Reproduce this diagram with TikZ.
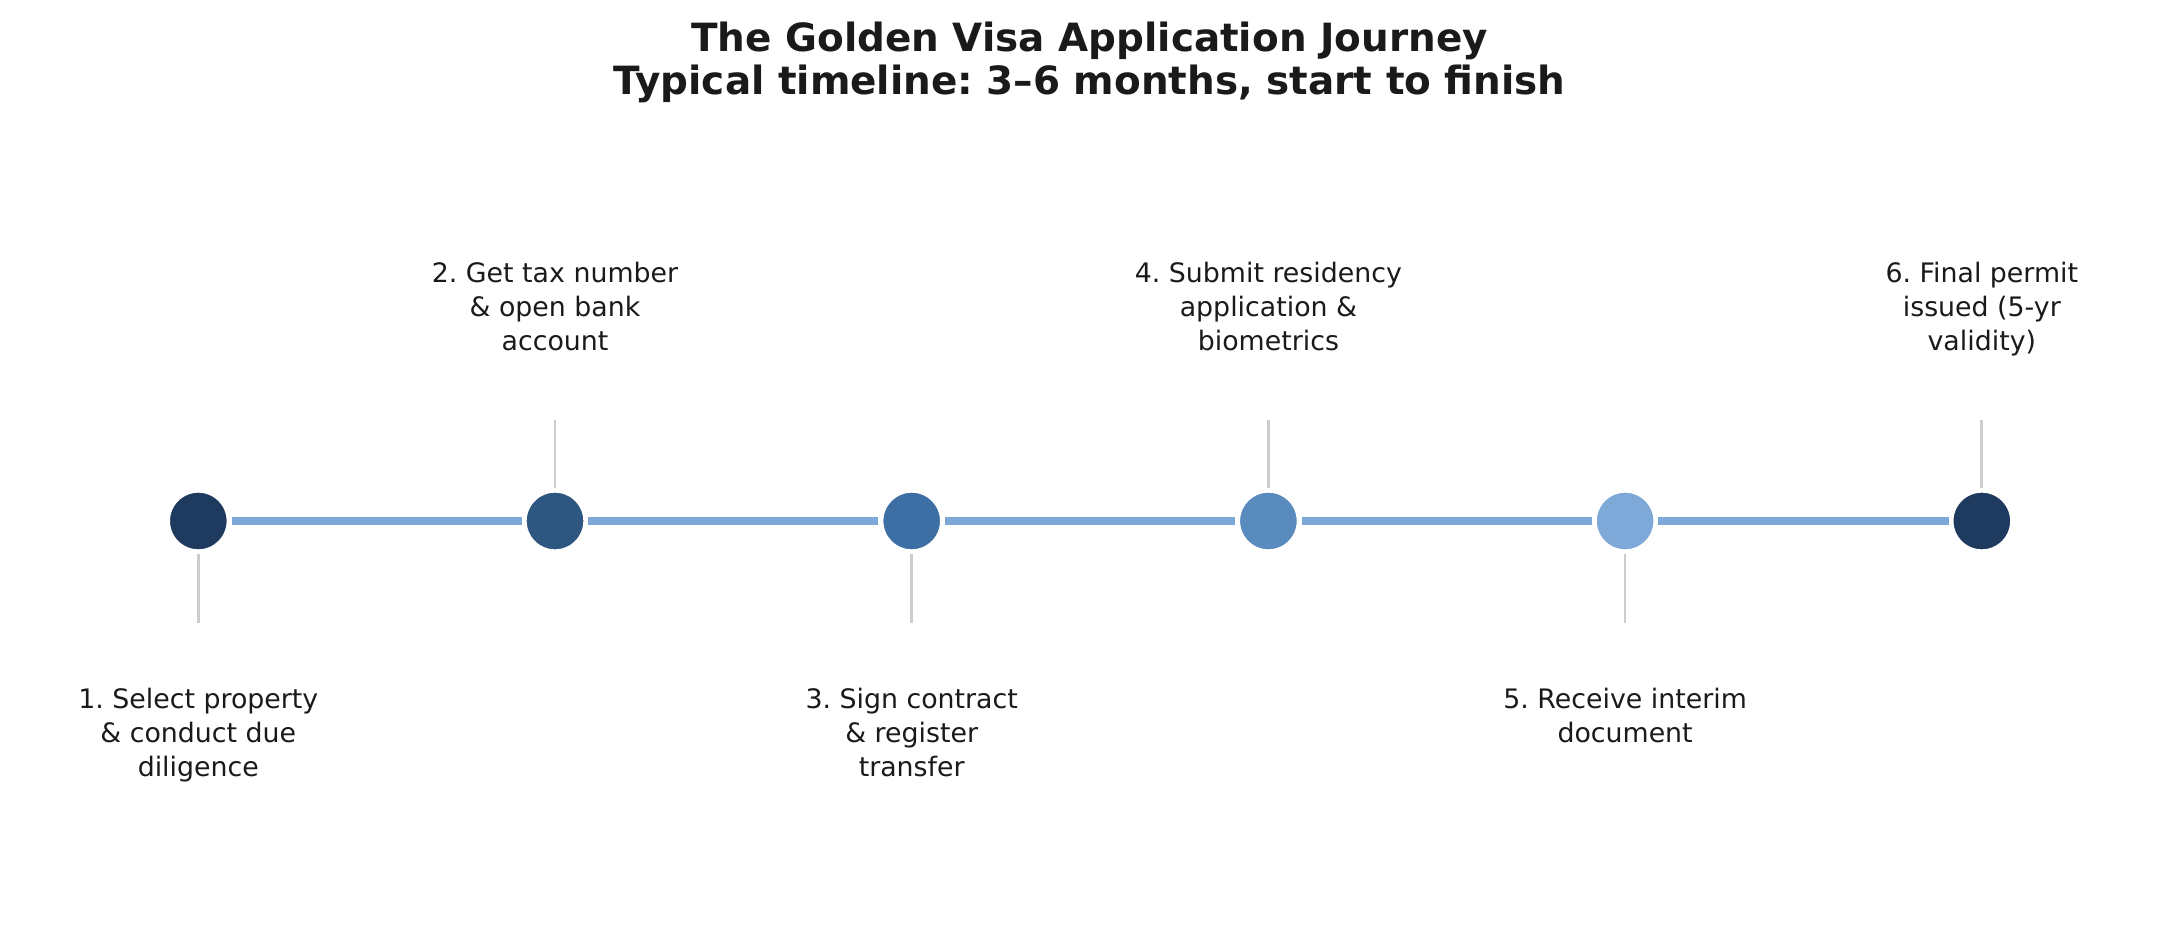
\documentclass[tikz,border=0pt]{standalone}
\usepackage{fontspec}
\setmainfont{DejaVu Sans}
\frenchspacing
\definecolor{cA}{HTML}{1F3A5F}
\definecolor{cB}{HTML}{2D5680}
\definecolor{cC}{HTML}{3D6FA5}
\definecolor{cD}{HTML}{5A8BBF}
\definecolor{cE}{HTML}{7EA8D8}
\definecolor{trackc}{HTML}{7EA8D8}
\definecolor{stemc}{HTML}{CCCCCC}
\definecolor{labelc}{HTML}{1A1A1A}
\begin{document}
\begin{tikzpicture}[x=0.5pt,y=-0.5pt,
  dot/.style={circle, minimum size=30.8pt, inner sep=0pt, draw=white, line width=2.5pt},
  track/.style={draw=trackc, line width=4.15pt},
  stem/.style={draw=stemc, line width=1.35pt},
  lbl/.style={font=\fontsize{13.4pt}{17pt}\selectfont, text=labelc, align=center, inner sep=0pt, anchor=base},
  ttl/.style={font=\bfseries\fontsize{19.45pt}{21.5pt}\selectfont, text=labelc, align=center, inner sep=0pt, anchor=base}]
\useasboundingbox (0,0) rectangle (2179,940);
\node[ttl] (title) at (1089.5,94.5) {The Golden Visa Application Journey\\Typical timeline: 3–6 months, start to finish};
\node[dot, fill=cA] (d1) at (198.3,521) {};
\node[dot, fill=cB] (d2) at (555.0,521) {};
\node[dot, fill=cC] (d3) at (911.7,521) {};
\node[dot, fill=cD] (d4) at (1268.4,521) {};
\node[dot, fill=cE] (d5) at (1625.1,521) {};
\node[dot, fill=cA] (d6) at (1981.8,521) {};
\draw[track] (d1) -- (d2);
\draw[track] (d2) -- (d3);
\draw[track] (d3) -- (d4);
\draw[track] (d4) -- (d5);
\draw[track] (d5) -- (d6);
\coordinate (s1) at (198.3,623);
\coordinate (s2) at (555.0,420);
\coordinate (s3) at (911.7,623);
\coordinate (s4) at (1268.4,420);
\coordinate (s5) at (1625.1,623);
\coordinate (s6) at (1981.8,420);
\draw[stem] (d1) -- (s1);
\draw[stem] (d2) -- (s2);
\draw[stem] (d3) -- (s3);
\draw[stem] (d4) -- (s4);
\draw[stem] (d5) -- (s5);
\draw[stem] (d6) -- (s6);
\node[lbl] (l1) at (198.3,776.2) {1. Select property\\\& conduct due\\diligence};
\node[lbl] (l2) at (555.0,351) {2. Get tax number\\\& open bank\\account};
\node[lbl] (l3) at (911.7,776.2) {3. Sign contract\\\& register\\transfer};
\node[lbl] (l4) at (1268.4,351) {4. Submit residency\\application \&\\biometrics};
\node[lbl] (l5) at (1625.1,742.9) {5. Receive interim\\document};
\node[lbl] (l6) at (1981.8,351) {6. Final permit\\issued (5-yr\\validity)};
\end{tikzpicture}
\end{document}
